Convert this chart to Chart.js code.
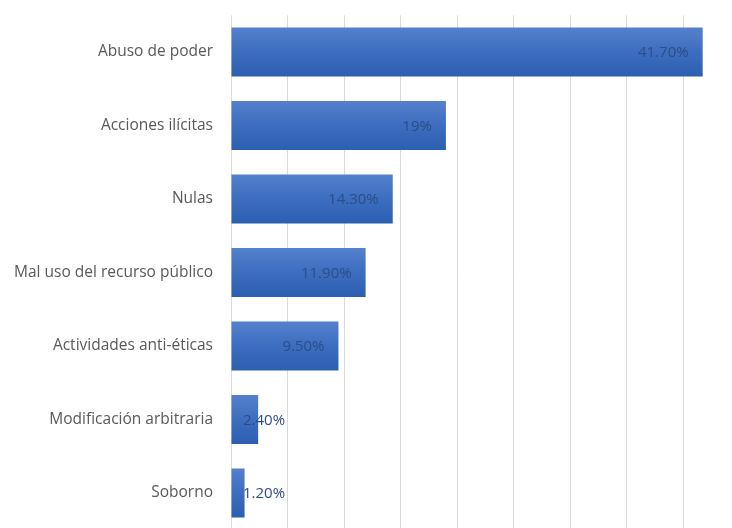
<!DOCTYPE html>
<html>
<head>
<meta charset="utf-8">
<script src="https://cdn.jsdelivr.net/npm/chart.js@4"></script>
<style>
  html, body { margin: 0; padding: 0; background: #fff; overflow: hidden; }
  #wrap { width: 740px; height: 569px; margin-top: -12px; }
</style>
</head>
<body>
<div id="wrap"><canvas id="chart"></canvas></div>
<script>
// Datos
const categorias = [
  'Abuso de poder',
  'Acciones ilícitas',
  'Nulas',
  'Mal uso del recurso público',
  'Actividades anti-éticas',
  'Modificación arbitraria',
  'Soborno'
];
const valores = [41.7, 19, 14.3, 11.9, 9.5, 2.4, 1.2];
const etiquetas = ['41.70%', '19%', '14.30%', '11.90%', '9.50%', '2.40%', '1.20%'];

const BAR_PCT = 0.667;

// Degradado vertical por barra
function barGradient(context) {
  const chart = context.chart;
  const y = chart.scales.y;
  if (!chart.chartArea || !y) return '#3f6fc0';
  const band = (chart.chartArea.bottom - chart.chartArea.top) / categorias.length;
  const half = band * BAR_PCT / 2;
  const yc = y.getPixelForValue(context.dataIndex);
  const g = chart.ctx.createLinearGradient(0, yc - half, 0, yc + half);
  g.addColorStop(0, '#5481cc');
  g.addColorStop(0.5, '#3d6dbf');
  g.addColorStop(1, '#2b5fb0');
  return g;
}

// Etiquetas dentro del extremo de la barra
const etiquetasPlugin = {
  id: 'etiquetasBarra',
  afterDatasetsDraw: (chart) => {
    const ctx = chart.ctx;
    const meta = chart.getDatasetMeta(0);
    const left = chart.chartArea.left;
    ctx.save();
    ctx.font = '15px "Open Sans"';
    ctx.fillStyle = '#2c4d86';
    ctx.textAlign = 'right';
    ctx.textBaseline = 'middle';
    meta.data.forEach((bar, i) => {
      const txt = etiquetas[i];
      const w = ctx.measureText(txt).width;
      const x = Math.max(bar.x - 14, left + 12 + w);
      ctx.fillText(txt, x, bar.y + 1);
    });
    ctx.restore();
  }
};

new Chart(document.getElementById('chart'), {
  type: 'bar',
  data: {
    labels: categorias,
    datasets: [{
      data: valores,
      backgroundColor: barGradient,
      borderWidth: 0,
      barPercentage: BAR_PCT,
      categoryPercentage: 1
    }]
  },
  options: {
    indexAxis: 'y',
    responsive: true,
    maintainAspectRatio: false,
    animation: false,
    layout: { padding: { top: 5, bottom: 0, left: 0, right: 0 } },
    plugins: {
      legend: { display: false },
      tooltip: { enabled: false }
    },
    scales: {
      x: {
        min: 0,
        max: 45,
        afterFit: (scale) => { scale.height = 0; },
        ticks: { display: false, stepSize: 5 },
        grid: { color: '#d9d9d9', drawTicks: false },
        border: { display: false }
      },
      y: {
        afterFit: (scale) => { scale.width = 231; },
        ticks: {
          color: '#595959',
          padding: 18,
          font: { family: 'Open Sans', size: 15.5 }
        },
        grid: { display: false, drawTicks: false },
        border: { display: false }
      }
    }
  },
  plugins: [etiquetasPlugin]
});
</script>
</body>
</html>
